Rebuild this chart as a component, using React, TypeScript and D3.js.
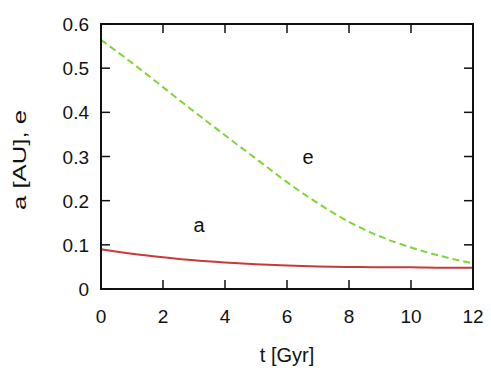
import React from "react";
import * as d3 from "d3";

const tValues = [0, 1, 2, 3, 4, 5, 6, 7, 8, 9, 10, 11, 12];
const eValues = [0.564, 0.512, 0.457, 0.402, 0.348, 0.295, 0.242, 0.194, 0.152, 0.119, 0.094, 0.074, 0.058];
const aValues = [0.090, 0.080, 0.072, 0.065, 0.060, 0.056, 0.053, 0.051, 0.050, 0.049, 0.049, 0.048, 0.048];
const xTicks = [0, 2, 4, 6, 8, 10, 12];
const yTicks = [0, 0.1, 0.2, 0.3, 0.4, 0.5, 0.6];
const yTickLabels = ["0", "0.1", "0.2", "0.3", "0.4", "0.5", "0.6"];

const W = 491, H = 382;
const L = 101, R = 473, T = 24, B = 289;
const FONT = "'Liberation Sans', Arial, Helvetica, sans-serif";

export default function App() {
  const x = d3.scaleLinear().domain([0, 12]).range([L, R]);
  const y = d3.scaleLinear().domain([0, 0.6]).range([B, T]);
  const line = d3
    .line<number>()
    .x((_, i) => x(tValues[i]))
    .y((d) => y(d))
    .curve(d3.curveMonotoneX);
  const tick = 9;
  return (
    <svg width={W} height={H} style={{ position: "absolute", left: 0, top: 0, background: "#fff" }}>
      <rect x={0} y={0} width={W} height={H} fill="#fff" />
      <path d={line(aValues) || ""} fill="none" stroke="#c83a3a" strokeWidth={2} />
      <path d={line(eValues) || ""} fill="none" stroke="#7fd630" strokeWidth={2} strokeDasharray="7,4" />
      <rect x={L} y={T} width={R - L} height={B - T} fill="none" stroke="#111" strokeWidth={2} />
      {xTicks.map((t) => (
        <g key={"x" + t}>
          <line x1={x(t)} x2={x(t)} y1={B} y2={B - tick} stroke="#111" strokeWidth={1.5} />
          <line x1={x(t)} x2={x(t)} y1={T} y2={T + tick} stroke="#111" strokeWidth={1.5} />
          <text x={x(t)} y={323} textAnchor="middle" fontFamily={FONT} fontSize={19} fill="#111">
            {t}
          </text>
        </g>
      ))}
      {yTicks.map((v, i) => (
        <g key={"y" + v}>
          <line x1={L} x2={L + tick} y1={y(v)} y2={y(v)} stroke="#111" strokeWidth={1.5} />
          <line x1={R} x2={R - tick} y1={y(v)} y2={y(v)} stroke="#111" strokeWidth={1.5} />
          <text x={89} y={y(v) + 7} textAnchor="end" fontFamily={FONT} fontSize={19} fill="#111">
            {yTickLabels[i]}
          </text>
        </g>
      ))}
      <text x={(L + R) / 2} y={362} textAnchor="middle" fontFamily={FONT} fontSize={20} fill="#111">
        t [Gyr]
      </text>
      <text
        transform={`translate(26,160) rotate(-90)`}
        textAnchor="middle"
        fontFamily={FONT}
        fontSize={19}
        fill="#111"
        textLength={100}
        lengthAdjust="spacingAndGlyphs"
      >
        a [AU], e
      </text>
      <text x={308} y={164} textAnchor="middle" fontFamily={FONT} fontSize={20} fill="#111">
        e
      </text>
      <text x={199} y={232} textAnchor="middle" fontFamily={FONT} fontSize={20} fill="#111">
        a
      </text>
    </svg>
  );
}
